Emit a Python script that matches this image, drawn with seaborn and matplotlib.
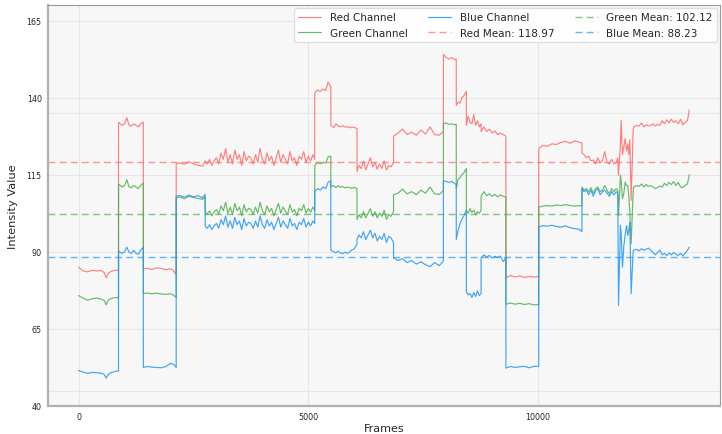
import numpy as np
import pandas as pd
import matplotlib
matplotlib.use("Agg")
import matplotlib.pyplot as plt
import seaborn as sns

# ==========================================
# 1. Data (per segment)
# ==========================================
FRAMES = [
    0, 100, 200, 300, 400, 500, 560, 600, 650, 700, 800, 869,
    870, 950, 1000, 1050, 1100, 1150, 1200, 1250, 1300, 1350, 1409,
    1410, 1500, 1600, 1700, 1800, 1900, 2000, 2060, 2124,
    2125, 2200, 2300, 2400, 2500, 2600, 2700, 2754,
    2755, 2800, 2850, 2900, 2950, 3000, 3050, 3100, 3150, 3200, 3250, 3300,
    3350, 3400, 3450, 3500, 3550, 3600, 3650, 3700, 3750, 3800, 3850, 3900,
    3950, 4000, 4050, 4100, 4150, 4200, 4250, 4300, 4350, 4400, 4450, 4500,
    4550, 4600, 4650, 4700, 4750, 4800, 4850, 4900, 4950, 5000, 5050, 5100, 5139,
    5140, 5200, 5260, 5320, 5380, 5430, 5489,
    5490, 5550, 5600, 5650, 5700, 5750, 5800, 5850, 5900, 5950, 6000, 6058,
    6059, 6100, 6150, 6200, 6250, 6300, 6350, 6400, 6450, 6500, 6550, 6600, 6650, 6700, 6750, 6800, 6854,
    6855, 6950, 7050, 7150, 7250, 7350, 7450, 7550, 7650, 7750, 7850, 7939,
    7940, 8000, 8060, 8120, 8180, 8219,
    8220, 8260, 8300, 8340, 8380, 8439,
    8440, 8480, 8520, 8560, 8600, 8640, 8680, 8720, 8759,
    8760, 8820, 8880, 8940, 9000, 9060, 9120, 9180, 9240, 9299,
    9300, 9400, 9500, 9600, 9700, 9800, 9900, 10014,
    10015, 10100, 10200, 10300, 10400, 10500, 10600, 10700, 10800, 10900, 10954,
    10955, 11000, 11050, 11100, 11150, 11200, 11250, 11300, 11350, 11400, 11450, 11500, 11550, 11600, 11650, 11700, 11734,
    11750, 11792, 11808, 11836, 11866, 11895, 11924, 11952, 11974, 11996, 12025, 12068,
    12080, 12150, 12200, 12250, 12300, 12350, 12400, 12450, 12500, 12550, 12600, 12650,
    12700, 12750, 12800, 12850, 12900, 12950, 13000, 13050, 13100, 13150, 13200, 13250, 13290,
]

RED = [
    85.0, 83.8, 83.5, 84.0, 83.8, 83.9, 83.2, 81.6, 83.0, 83.6, 84.0, 84.0,
    132.0, 131.0, 131.5, 133.5, 131.0, 130.8, 131.5, 131.0, 130.5, 131.5, 132.0,
    84.5, 84.6, 84.3, 84.8, 84.6, 84.2, 84.5, 84.0, 82.5,
    118.5, 118.8, 118.4, 119.2, 118.5, 118.0, 117.8, 119.5,
    119.5, 118.5, 120.0, 118.0, 119.5, 120.5, 118.5, 122.0, 120.0, 123.5, 119.0, 121.5,
    118.5, 123.0, 120.0, 121.5, 118.0, 122.5, 119.5, 121.0, 120.5, 118.5, 121.5, 119.0,
    123.5, 120.0, 118.5, 122.0, 119.5, 121.0, 118.0, 120.5, 123.0, 119.0, 121.5, 120.0,
    118.5, 122.5, 119.5, 120.5, 118.0, 121.0, 120.0, 122.5, 119.0, 121.0, 119.5, 121.5, 120.0,
    141.5, 142.5, 142.0, 142.8, 142.3, 145.0, 143.5,
    131.0, 130.3, 131.5, 130.8, 130.5, 130.9, 130.4, 130.6, 130.2, 130.5, 130.3, 130.0,
    116.0, 118.0, 117.0, 119.5, 116.5, 118.5, 120.5, 117.5, 119.0, 116.8, 118.5, 117.0, 119.5, 116.5, 118.0, 117.5, 119.0,
    127.5, 128.5, 129.8, 128.0, 128.8, 127.8, 129.5, 128.2, 130.5, 128.0, 127.8, 129.0,
    154.0, 153.0, 152.5, 153.0, 152.3, 152.5,
    137.5, 138.5, 138.2, 140.0, 140.5, 142.0,
    131.0, 134.0, 132.0, 131.5, 134.5, 131.0, 132.5, 130.5, 131.5,
    129.0, 130.5, 129.0, 129.8, 128.5, 129.2, 128.0, 128.5, 128.0, 127.5,
    81.5, 82.3, 81.8, 82.2, 81.7, 82.0, 81.8, 82.0,
    123.5, 124.5, 124.2, 125.0, 124.8, 125.5, 125.8, 125.2, 126.0, 125.5, 125.3,
    122.0, 121.5, 120.5, 121.0, 119.5, 119.8, 118.5, 120.5, 118.8, 119.5, 122.5, 119.0, 118.5, 120.0, 118.5, 119.0, 120.5,
    114.8, 125.0, 132.6, 121.5, 124.0, 126.7, 122.7, 125.0, 121.5, 126.3, 106.7, 129.0,
    130.5, 131.0, 130.8, 131.8, 130.5, 131.2, 130.8, 131.0, 131.5, 130.8, 131.3, 131.0,
    132.5, 131.5, 132.8, 131.8, 133.0, 132.0, 132.5, 131.5, 133.0, 131.2, 132.0, 132.5, 136.0,
]

GREEN = [
    75.8, 75.0, 74.3, 74.8, 75.0, 74.6, 74.2, 72.8, 74.4, 74.8, 75.2, 75.0,
    112.0, 111.0, 111.5, 113.3, 111.0, 110.8, 111.5, 111.0, 110.5, 111.5, 112.3,
    76.5, 76.6, 76.4, 76.6, 76.3, 76.2, 76.4, 76.0, 75.2,
    107.5, 107.8, 107.2, 108.0, 107.6, 107.3, 107.0, 107.8,
    103.0, 102.2, 103.3, 101.7, 102.9, 103.7, 102.1, 104.9, 103.3, 106.1, 102.5, 104.5,
    102.1, 105.7, 103.3, 104.5, 101.7, 105.3, 102.9, 104.1, 103.7, 102.1, 104.5, 102.5,
    106.1, 103.3, 102.1, 104.9, 102.9, 104.1, 101.7, 103.7, 105.7, 102.5, 104.5, 103.3,
    102.1, 105.3, 102.9, 103.7, 101.7, 104.1, 103.3, 105.3, 102.5, 104.1, 102.9, 104.5, 103.3,
    118.0, 119.0, 118.5, 119.0, 118.8, 120.8, 121.0,
    111.0, 111.5, 110.8, 111.4, 110.9, 111.2, 110.7, 111.0, 110.8, 110.6, 110.9, 110.5,
    100.5, 102.0, 101.0, 103.0, 101.0, 102.5, 104.0, 101.5, 103.0, 101.0, 102.5, 101.5, 103.5, 100.5, 102.0, 101.5, 103.0,
    108.5, 109.0, 110.3, 108.8, 109.5, 108.5, 110.0, 109.0, 111.0, 108.8, 108.6, 109.8,
    131.5, 131.8, 131.3, 131.5, 131.2, 131.4,
    110.5, 113.5, 114.0, 115.0, 115.5, 117.0,
    103.5, 102.5, 104.0, 102.8, 103.5, 102.0, 103.0, 102.5, 103.5,
    108.0, 109.5, 108.2, 108.8, 108.0, 108.6, 107.8, 108.5, 108.0, 107.8,
    73.0, 73.4, 73.0, 73.3, 72.9, 73.2, 72.8, 72.9,
    104.5, 104.8, 105.0, 104.8, 105.2, 105.0, 105.3, 105.0, 104.8, 105.0, 104.8,
    111.0, 110.0, 110.5, 109.5, 110.8, 109.0, 110.5, 111.0, 109.5, 110.0, 111.5, 110.0, 108.8, 110.5, 109.5, 110.5, 110.0,
    101.8, 114.8, 113.0, 107.2, 109.0, 112.6, 111.5, 111.5, 108.0, 103.0, 92.6, 109.5,
    111.0, 111.5, 111.2, 112.0, 111.0, 111.8, 111.2, 111.5, 111.0, 110.5, 110.8, 111.3,
    111.0, 112.2, 111.5, 112.5, 111.8, 112.8, 111.5, 112.5, 111.0, 110.8, 111.5, 112.0, 115.0,
]

BLUE = [
    51.5, 51.0, 50.6, 50.9, 50.8, 50.6, 50.2, 49.0, 50.3, 50.8, 51.2, 51.4,
    90.2, 89.5, 90.0, 91.5, 89.8, 89.5, 90.5, 89.5, 89.2, 90.5, 91.5,
    52.5, 52.8, 52.6, 52.5, 52.4, 52.8, 53.8, 53.6, 52.5,
    108.0, 108.3, 107.7, 108.4, 107.8, 108.2, 107.5, 108.6,
    98.4, 97.6, 98.8, 97.2, 98.4, 99.2, 97.6, 100.4, 98.8, 101.6, 98.0, 100.0,
    97.6, 101.2, 98.8, 100.0, 97.2, 100.8, 98.4, 99.6, 99.2, 97.6, 100.0, 98.0,
    101.6, 98.8, 97.6, 100.4, 98.4, 99.6, 97.2, 99.2, 101.2, 98.0, 100.0, 98.8,
    97.6, 100.8, 98.4, 99.2, 97.2, 99.6, 98.8, 100.8, 98.0, 99.6, 98.4, 100.0, 99.2,
    109.5, 110.5, 110.0, 111.0, 110.5, 112.5, 113.0,
    90.5, 90.0, 89.7, 90.2, 89.6, 89.4, 89.9, 89.5, 90.0, 90.6, 91.0, 92.5,
    94.0, 95.5, 94.5, 96.5, 94.0, 95.5, 97.0, 94.5, 96.0, 93.5, 95.0, 94.0, 96.0, 93.0, 95.0, 94.5, 93.0,
    88.0, 87.2, 87.8, 86.5, 87.2, 86.0, 86.8, 85.8, 85.2, 86.5, 85.5, 87.0,
    113.0, 112.8, 112.5, 112.8, 112.2, 111.8,
    94.0, 97.0, 99.0, 100.5, 101.5, 103.5,
    77.0, 76.0, 76.5, 75.2, 76.8, 75.5, 77.3, 75.8, 76.5,
    88.0, 89.0, 88.3, 88.8, 88.0, 88.5, 88.2, 88.6, 86.8, 88.0,
    52.3, 52.8, 52.5, 52.7, 52.9, 52.4, 52.8, 52.9,
    98.0, 98.5, 98.3, 98.6, 98.2, 98.0, 98.4, 97.8, 97.5, 97.3, 96.5,
    110.5, 109.5, 110.0, 108.5, 110.0, 108.0, 109.8, 110.5, 108.5, 109.5, 110.0, 109.0, 108.0, 109.5, 108.5, 109.5, 109.0,
    72.6, 98.5, 96.0, 85.0, 92.0, 95.5, 98.5, 95.3, 97.0, 99.6, 76.4, 90.0,
    90.5, 90.8, 90.3, 91.0, 90.5, 90.8, 91.2, 90.5, 89.8, 89.0, 89.8, 90.5,
    89.0, 89.5, 88.8, 89.6, 89.0, 89.8, 89.2, 88.8, 89.5, 88.7, 89.5, 90.5, 91.5,
]

# Means as printed in the legend
MEANS = {"Red": 118.97, "Green": 102.12, "Blue": 88.23}

CHANNELS = ["Red", "Green", "Blue"]
COLORS = {"Red": "#ff6b6b", "Green": "#4fae4f", "Blue": "#2196f3"}

Y_TICKS = [40, 65, 90, 115, 140, 165]
X_TICKS = [0, 5000, 10000]
EXTRA_GRID = [45, 135]

# ==========================================
# 2. Plot
# ==========================================
df = pd.DataFrame({"Frames": FRAMES, "Red": RED, "Green": GREEN, "Blue": BLUE})

sns.set_style("whitegrid", {"axes.facecolor": "#f7f7f7", "grid.color": "#e6e6e6",
                            "axes.edgecolor": "#b0b0b0"})
plt.rcParams["font.family"] = ["DejaVu Sans"]

fig, ax = plt.subplots(figsize=(7.22, 4.35), dpi=100)
fig.subplots_adjust(left=0.0665, right=0.997, bottom=0.0644, top=0.986)

for ch in CHANNELS:
    sns.lineplot(data=df, x="Frames", y=ch, ax=ax, color=COLORS[ch], lw=0.85,
                 alpha=0.85, estimator=None, sort=False, label=f"{ch} Channel")

for ch in CHANNELS:
    ax.axhline(MEANS[ch], color=COLORS[ch], ls="--", lw=1.0, alpha=0.7,
               dashes=(5, 3), label=f"{ch} Mean: {MEANS[ch]:.2f}")

for yv in EXTRA_GRID:
    ax.axhline(yv, color="#e6e6e6", lw=0.8, zorder=0)

ax.set_xlim(-665, 13955)
ax.set_ylim(40, 170)
ax.set_yticks(Y_TICKS)
ax.set_xticks(X_TICKS)
ax.tick_params(axis="both", labelsize=5.8, length=2.5, width=0.6, color="#555555", pad=2)
ax.grid(True, lw=0.8)

for side in ["left", "bottom"]:
    ax.spines[side].set_linewidth(1.6)
for side in ["top", "right"]:
    ax.spines[side].set_linewidth(0.8)
    ax.spines[side].set_color("#999999")

ax.set_xlabel("Frames", fontsize=8.0, labelpad=1)
ax.set_ylabel("Intensity Value", fontsize=8.2, labelpad=6)

ax.legend(loc="upper right", ncol=3, fontsize=7.5, frameon=True, facecolor="white",
          edgecolor="#dddddd", framealpha=0.9, handlelength=2.2, columnspacing=2.0,
          borderaxespad=0.3)

fig.savefig("out.png", dpi=100)
plt.close(fig)
